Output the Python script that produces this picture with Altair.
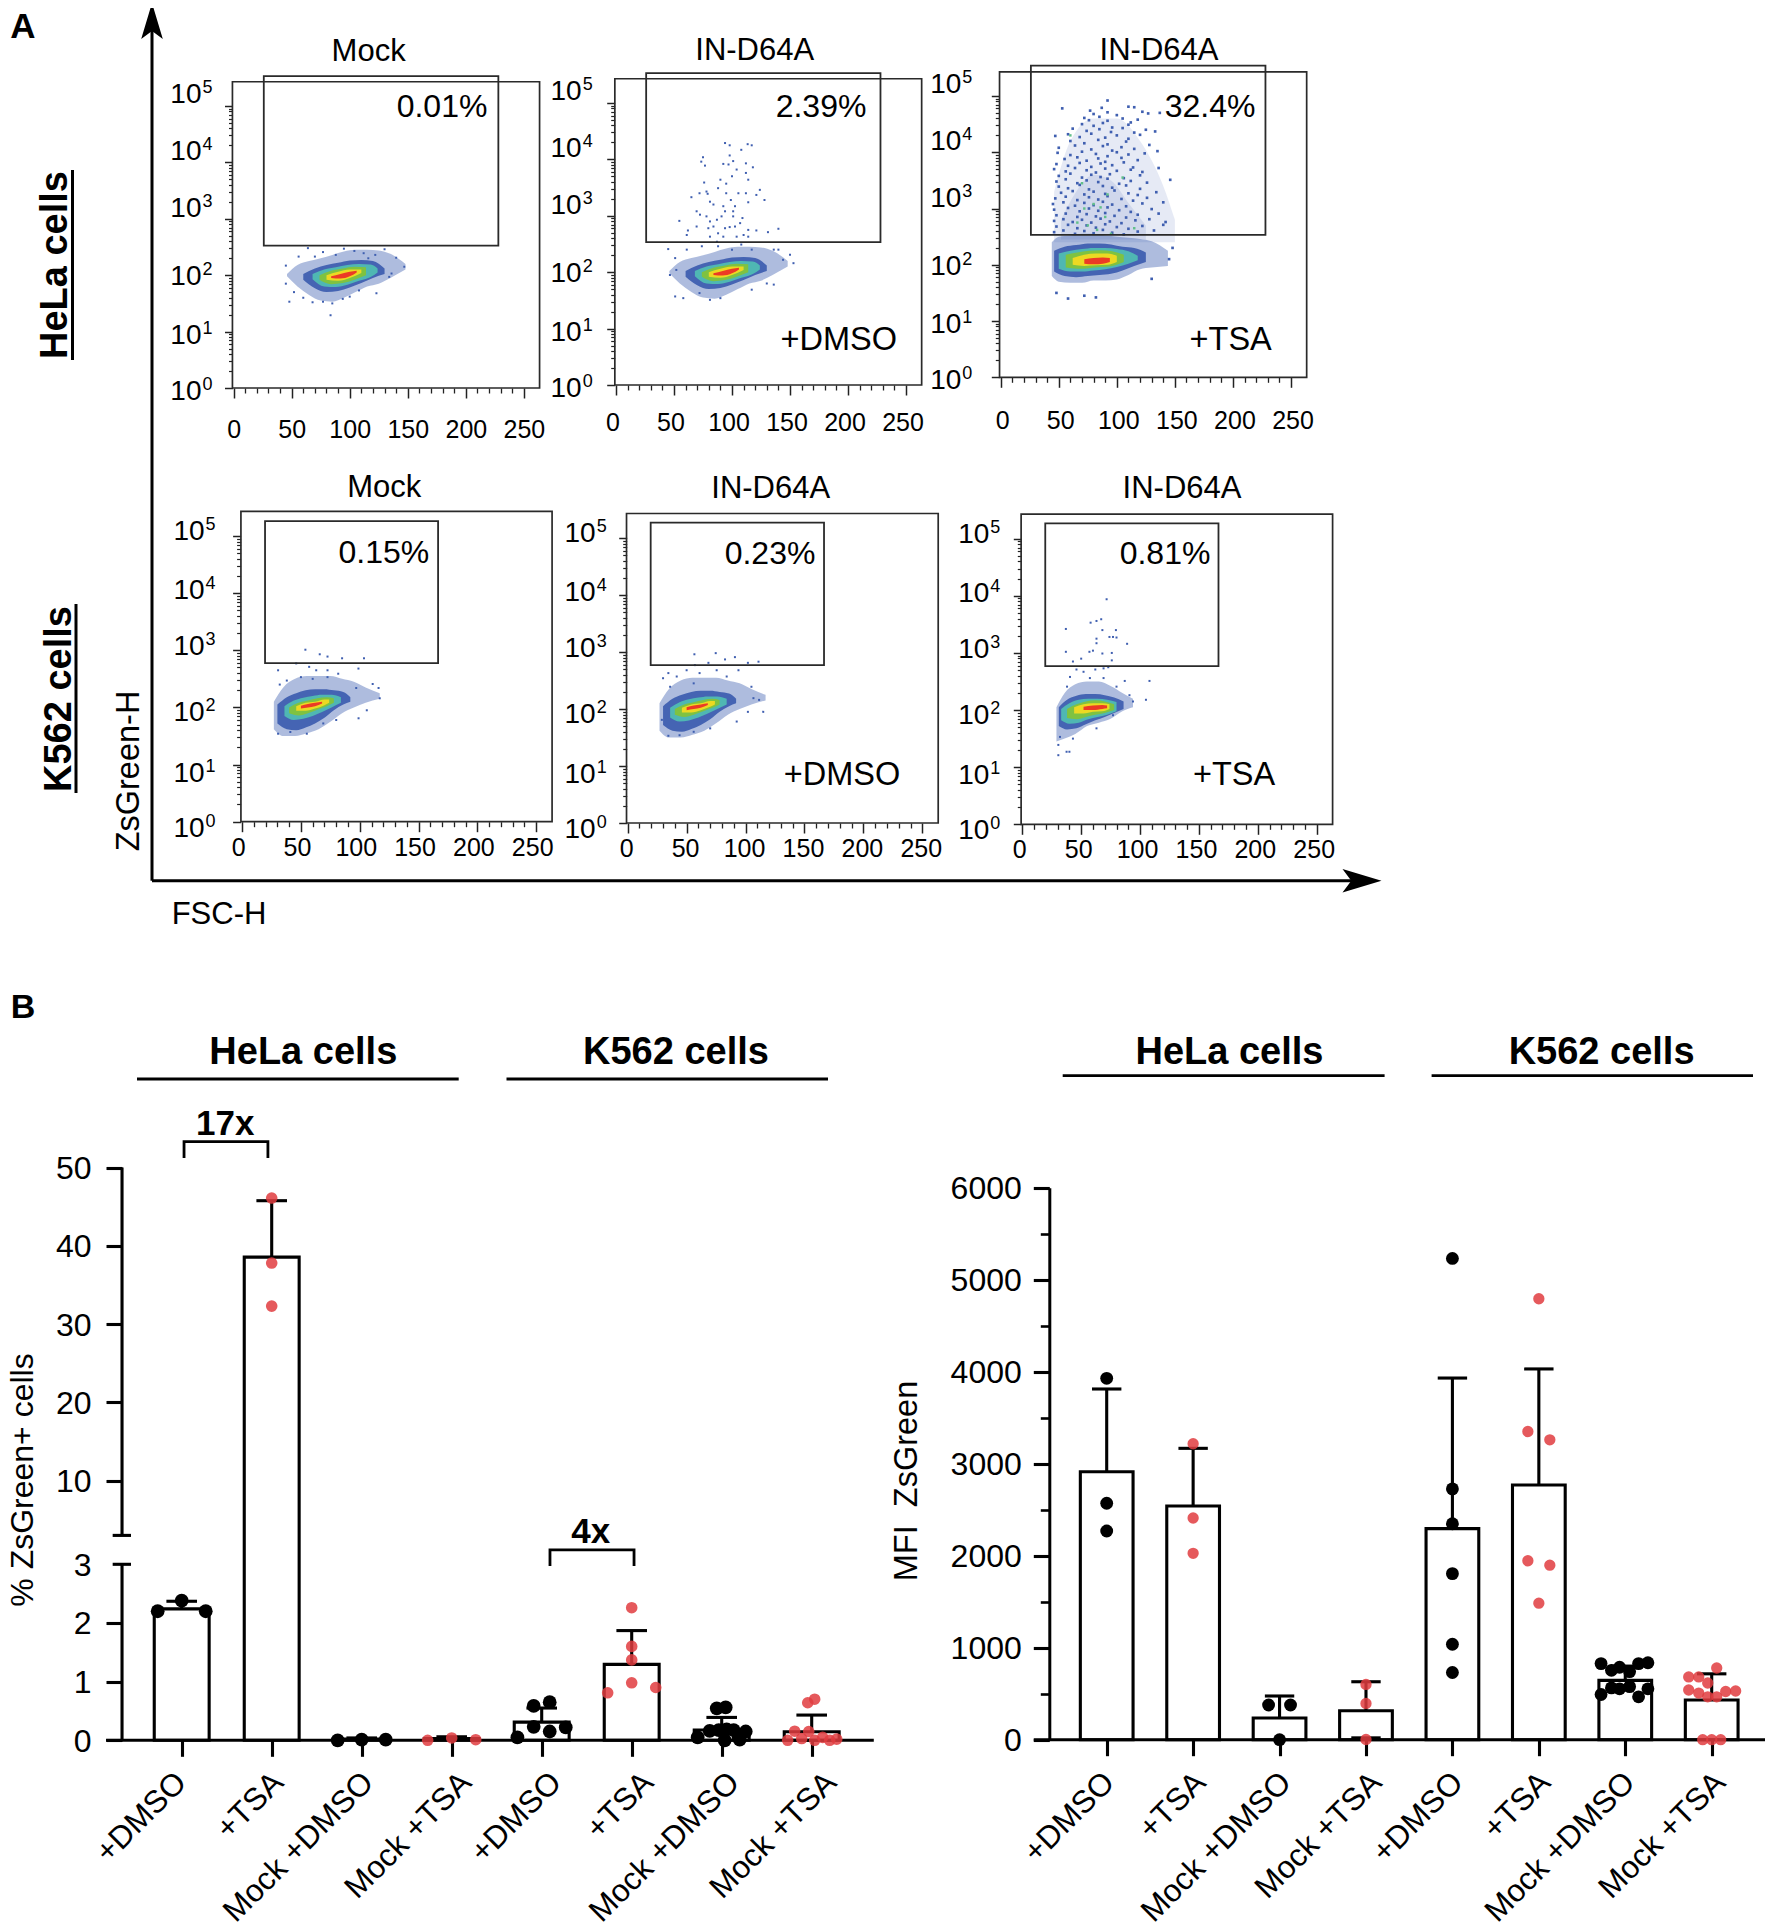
import altair as alt
import pandas as pd

W, H = 1757, 1920
FONT = "Liberation Sans"
def px(v): return v - 8
def py(v): return v - 8

# ---------- flow cytometry panels ----------
X_MAJOR = [0, 50, 100, 150, 200, 250]
X_MINOR = [10, 20, 30, 40, 60, 70, 80, 90, 110, 120, 130, 140, 160, 170, 180, 190, 210, 220, 230, 240, 260]
Y_MAJOR = [1, 10, 100, 1000, 10000, 100000]
Y_MINOR = [m * d for d in [1, 10, 100, 1000, 10000] for m in range(2, 10)] + [200000]
DECADES = [0, 1, 2, 3, 4, 5]
ROW1_LABEL_SHIFT = [4, 4, 2, -10, -10, -11]
ROW2_LABEL_SHIFT = [7, 9, 6, -3, -2, -4]

COLORS = ["#3f5fb0", "#3f5fb0", "#4fb7b3", "#7fc241", "#ecd922", "#ec3a25"]
OPAC = [0.42, 0.95, 1, 1, 1, 1]

HELA_LEVELS = [
    ([46,55,65,75,85,95,105,115,125,135,148], [1.98,1.8,1.65,1.55,1.53,1.6,1.7,1.8,1.85,1.95,2.1], [2.02,2.18,2.25,2.3,2.36,2.42,2.45,2.45,2.44,2.38,2.2]),
    ([60,70,80,90,100,110,120,130], [1.92,1.77,1.7,1.72,1.78,1.86,1.95,2.02], [2.02,2.12,2.18,2.22,2.26,2.27,2.25,2.12]),
    ([68,78,88,98,108,118,124], [1.93,1.8,1.79,1.83,1.9,1.97,2.05], [2.02,2.1,2.14,2.18,2.2,2.19,2.12]),
    ([74,84,94,104,114], [1.92,1.84,1.86,1.92,2.0], [2.0,2.08,2.12,2.15,2.14]),
    ([80,90,100,110], [1.92,1.9,1.95,2.04], [2.0,2.06,2.1,2.1]),
    ([84,92,100,106], [1.95,1.94,1.98,2.05], [1.98,2.02,2.06,2.08]),
]
TSA_LEVELS = [
    ([44,50,60,70,80,90,100,110,120,130,144], [1.8,1.7,1.68,1.68,1.72,1.72,1.74,1.82,1.92,1.95,1.98], [2.4,2.5,2.52,2.55,2.55,2.52,2.5,2.48,2.46,2.42,2.25]),
    ([46,55,65,75,85,95,105,115,125], [1.88,1.8,1.78,1.8,1.82,1.84,1.9,1.98,2.05], [2.25,2.32,2.35,2.38,2.38,2.36,2.32,2.3,2.22]),
    ([50,60,70,80,90,100,110,118], [1.93,1.88,1.88,1.9,1.92,1.96,2.02,2.08], [2.2,2.25,2.28,2.3,2.3,2.28,2.24,2.16]),
    ([56,66,76,86,96,106], [1.95,1.93,1.94,1.96,1.98,2.05], [2.18,2.22,2.25,2.26,2.24,2.18]),
    ([62,72,82,92,100], [2.0,1.98,1.99,2.0,2.05], [2.12,2.18,2.2,2.2,2.16]),
    ([72,80,88,94], [2.02,2.01,2.02,2.05], [2.1,2.12,2.13,2.12]),
]
K562_LEVELS = [
    ([27,35,45,55,65,75,85,95,105,117], [1.62,1.5,1.5,1.55,1.62,1.75,1.9,2.0,2.08,2.15], [2.1,2.35,2.5,2.55,2.55,2.55,2.5,2.45,2.35,2.25]),
    ([30,38,46,54,62,70,78,86,92], [1.72,1.62,1.6,1.65,1.72,1.82,1.95,2.05,2.1], [2.05,2.18,2.25,2.3,2.32,2.32,2.3,2.27,2.18]),
    ([36,44,52,60,68,76,84], [1.85,1.78,1.8,1.85,1.92,2.0,2.08], [2.02,2.12,2.17,2.2,2.22,2.22,2.18]),
    ([40,48,56,64,72,78], [1.9,1.86,1.9,1.96,2.02,2.08], [2.0,2.08,2.12,2.16,2.18,2.16]),
    ([46,54,62,70,74], [1.94,1.94,1.98,2.04,2.08], [2.02,2.08,2.1,2.14,2.14]),
    ([50,56,62,68], [1.98,2.0,2.02,2.07], [2.03,2.06,2.08,2.1]),
]
K562_TSA_LEVELS = [
    ([29,36,45,55,65,75,85,94], [1.45,1.5,1.58,1.72,1.78,1.85,1.98,2.05], [2.05,2.3,2.45,2.5,2.5,2.42,2.3,2.2]),
    ([31,38,46,54,62,70,78,86], [1.72,1.66,1.68,1.75,1.82,1.88,1.95,2.02], [2.05,2.18,2.25,2.28,2.28,2.26,2.22,2.15]),
    ([33,40,48,56,64,72,80], [1.82,1.76,1.78,1.84,1.88,1.92,1.98], [2.02,2.12,2.18,2.2,2.2,2.18,2.14]),
    ([38,46,54,62,70,78], [1.86,1.84,1.88,1.92,1.95,2.0], [2.02,2.1,2.15,2.17,2.15,2.1]),
    ([44,52,60,68,74], [1.94,1.94,1.97,1.98,2.02], [2.05,2.1,2.12,2.12,2.1]),
    ([52,60,68,72], [2.0,2.0,2.02,2.03], [2.06,2.08,2.09,2.08]),
]
TSA_HAZE = ([46,60,80,100,120,140,150], [2.4,2.4,2.4,2.4,2.4,2.4,2.4], [3.3,4.2,4.6,4.6,4.2,3.4,2.8])
TSA_HAZE2 = ([52,65,80,95,110,125], [2.45,2.45,2.45,2.45,2.45,2.45], [2.8,3.3,3.6,3.5,3.1,2.7])

P1_DOTS = [(64,2.48),(77,2.41),(95,2.47),(112,2.39),(130,2.46),(140,2.31),(147,2.15),(136,2.03),(123,1.68),(83.5,1.29),
           (56,2.33),(45,2.17),(45,1.85),(48,1.53),(77,1.53),(94,1.58),(108,1.73),(134,1.97),(122,2.36),(116,2.3),
           (52,1.7),(60,1.6),(68,1.52),(85,1.5),(100,1.62),(104,2.43),(88,2.36),(70,2.33)]
P2_DOTS = [(94,4.29),(98,4.25),(108,4.17),(113.5,4.27),(117,4.25),(75,4.04),(98,4.07),(92.5,3.92),(101,3.97),(73.5,3.96),
           (76.7,3.89),(97,3.91),(112,3.93),(104,3.82),(118,3.86),(100,3.7),(112,3.76),(76,3.59),(90,3.64),(114,3.64),
           (95,3.57),(88,3.49),(78,3.43),(79,3.39),(95,3.4),(105.5,3.4),(112,3.4),(124,3.46),(121,3.37),(65,3.33),
           (72,3.4),(99,3.28),(81,3.25),(114,3.24),(128,3.28),(84,3.2),(92.5,3.17),(102.6,3.17),(69.5,3.08),(72.4,3.02),
           (78,2.99),(94,3.08),(101,3.08),(109,2.96),(54.6,2.91),(81,2.9),(87,2.93),(91,2.99),(101,2.99),(107,2.87),
           (62,2.74),(69.5,2.81),(79.6,2.78),(84,2.81),(94,2.78),(98,2.8),(102.6,2.81),(114,2.75),(140,2.77),(121,2.74),
           (131,2.71),(61,2.66),(81,2.63),(88,2.69),(92.5,2.63),(104,2.63),(110,2.66),(114,2.63),(87,2.54),
           (45,2.41),(61,2.4),(74,2.46),(88,2.46),(100,2.4),(108,2.49),(117,2.4),(136,2.4),(140,2.4),(153,2.16),(150,2.31),
           (144,2.22),(51,2.25),(52,2.04),(46.5,1.95),(51,1.57),(58,1.54),(72,1.63),(81,1.51),(90,1.54),(117,1.69),(130,1.8),(136,1.78)]
P3_DOTS = [(92,4.92),(53,4.78),(77,4.74),(87,4.79),(110,4.81),(115,4.8),(80,4.68),(92,4.71),(100,4.66),(122,4.72),(127,4.69),(137,4.7),
           (72,4.61),(76,4.57),(85,4.63),(92,4.56),(105,4.6),(112,4.53),(118,4.58),(70,4.5),(80,4.47),(88,4.52),(96,4.44),(110,4.49),
           (62,4.42),(74,4.38),(85,4.41),(95,4.36),(105,4.43),(115,4.35),(125,4.4),(133,4.37),(47,4.29),(58,4.32),(68,4.27),(78,4.33),(90,4.26),(100,4.3),(110,4.24),(120,4.31),
           (60,4.2),(72,4.16),(84,4.22),(92,4.14),(108,4.19),(50,4.08),(64,4.12),(78,4.05),(88,4.11),(96,4.03),(104,4.09),(115,4.06),(128,4.13),
           (49,3.99),(60,3.95),(70,4.01),(82,3.97),(92,3.93),(100,4.0),(110,3.96),(124,3.98),(135,4.02),(55,3.88),(66,3.91),(74,3.85),(84,3.89),(90,3.83),(104,3.9),(118,3.86),
           (48,3.79),(58,3.76),(68,3.81),(78,3.74),(86,3.8),(96,3.77),(106,3.82),(114,3.73),(46,3.7),(56,3.66),(64,3.72),(74,3.68),(82,3.64),(90,3.71),(100,3.67),(112,3.69),(122,3.65),(136,3.72),
           (50,3.58),(60,3.62),(70,3.55),(78,3.6),(86,3.56),(94,3.61),(106,3.54),(120,3.59),(48,3.48),(56,3.52),(66,3.45),(74,3.5),(84,3.47),(92,3.53),(102,3.44),(112,3.49),(126,3.46),(146,3.51),
           (50,3.39),(58,3.36),(68,3.42),(76,3.34),(88,3.4),(96,3.37),(108,3.41),(120,3.35),(52,3.28),(62,3.31),(72,3.25),(80,3.3),(90,3.26),(98,3.32),(110,3.27),(118,3.24),(134,3.29),
           (47,3.18),(56,3.21),(66,3.15),(76,3.2),(84,3.16),(92,3.22),(104,3.17),(114,3.14),(126,3.19),(45,3.08),(54,3.11),(64,3.05),(72,3.1),(80,3.06),(88,3.12),(96,3.07),(108,3.04),(122,3.09),(140,3.11),
           (46,2.98),(58,3.01),(68,2.95),(76,3.0),(84,2.96),(92,3.02),(102,2.97),(112,2.94),(130,2.99),(48,2.88),(56,2.91),(66,2.85),(74,2.9),(82,2.86),(90,2.92),(98,2.87),(108,2.84),(118,2.89),(136,2.91),
           (46,2.78),(54,2.81),(62,2.76),(70,2.8),(78,2.75),(86,2.82),(94,2.77),(104,2.74),(116,2.79),(128,2.81),(142,2.76),(48,2.68),(58,2.71),(66,2.65),(74,2.7),(82,2.66),(90,2.72),(100,2.67),(110,2.64),(122,2.69),(140,2.71),
           (46,2.58),(54,2.61),(64,2.55),(72,2.6),(80,2.56),(88,2.62),(96,2.57),(106,2.54),(118,2.59),(132,2.61),(148,2.3),(145,2.1),(130,1.75),(58,1.4),(48,1.5),(72,1.45),(82,1.42)]
P3_GREEN = [(72,3.0),(86,3.02),(80,3.08),(90,2.85),(75,2.7),(83,2.62),(95,2.55),(66,2.75),(92,3.25),(70,3.45),(105,3.55),(60,4.3),(115,2.65)]
P4_DOTS = [(53.8,3.01),(66,2.93),(72.6,2.89),(85,2.86),(103.6,2.86),(98.9,2.68),(30.6,2.65),(46,2.77),(57,2.71),(63,2.65),(72.6,2.65),(81.7,2.59),
           (38,2.47),(50,2.53),(60,2.5),(72.6,2.53),(97,2.34),(111,2.41),(116,2.34),(117,2.16),(106,1.95),(99,1.81),(80,1.78),(32,2.4),(30.6,1.54),(41,1.57),(55,1.54),(69,1.72)]
P5_DOTS = [(56.6,2.96),(74.7,2.98),(82.6,2.87),(91,2.91),(111,2.83),(102,2.81),(57,2.77),(68.5,2.81),(94,2.68),(50,2.68),(34.5,2.63),(30,2.54),(41.6,2.57),(61,2.63),
           (75.5,2.68),(84,2.57),(36,2.39),(56,2.45),(105,2.39),(111.5,2.16),(106.7,2.19),(115,1.95),(102,1.95),(92.5,1.78),(70,1.66),(29,1.81),(34.5,1.53),(44,1.54),(56,1.6)]
P6_DOTS = [(71.6,3.94),(58,3.53),(63,3.56),(67,3.59),(37,3.42),(68,3.4),(74,3.28),(77,3.28),(80,3.27),(63,3.25),(63,3.17),(89,3.16),(79.5,3.4),(37,3.02),(60,3.04),(57,3.02),
           (68,2.99),(76,3.0),(50,2.9),(43,2.85),(76,2.87),(46,2.71),(62,2.71),(69,2.73),(73,2.75),(52,2.67),(40.5,2.58),(57.4,2.56),(69,2.56),(87,2.51),(108,2.51),(38,2.41),(80,2.41),
           (105,2.18),(91,2.26),(94,2.15),(30.6,1.39),(37.6,1.27),(40,1.27),(30.6,1.21),(32,1.53),(43,1.5),(63,1.68),(77,1.91)]

FLOW = [
    dict(x0=233.6, x250=523.9, y0=388.0, y5=106.0, left=232.5, pad=19.7, lab=0, split=-31, shift=ROW1_LABEL_SHIFT,
         gx=[26,228], gy=[2.523,5.53], levels=HELA_LEVELS, dots=P1_DOTS,
         title="Mock", tx=368.6, ty=50, pct="0.01%", ptx=442, pty=105, sub=None),
    dict(x0=616.0, x250=906.0, y0=385.0, y5=103.0, left=614.7, pad=15.7, lab=-3.5, split=-33, shift=ROW1_LABEL_SHIFT,
         gx=[26,228], gy=[2.535,5.53], levels=HELA_LEVELS, dots=P2_DOTS,
         title="IN-D64A", tx=754.7, ty=49.3, pct="2.39%", ptx=821, pty=105, sub="+DMSO", sx=838.7, sy=338),
    dict(x0=1000.7, x250=1291.0, y0=377.3, y5=96.0, left=999.3, pad=20.7, lab=1.5, split=-38, shift=ROW1_LABEL_SHIFT,
         gx=[26,228], gy=[2.533,5.54], levels=TSA_LEVELS, dots=P3_DOTS,
         title="IN-D64A", tx=1159, ty=49.3, pct="32.4%", ptx=1210, pty=105, sub="+TSA", sx=1230.7, sy=338),
    dict(x0=242.1, x250=536.2, y0=821.7, y5=536.0, left=240.6, pad=3.7, lab=-4, split=-36, shift=ROW2_LABEL_SHIFT,
         gx=[19.5,166.6], gy=[2.774,5.26], levels=K562_LEVELS, dots=P4_DOTS,
         title="Mock", tx=384.2, ty=486.7, pct="0.15%", ptx=383.9, pty=551.7, sub=None),
    dict(x0=627.7, x250=922.3, y0=823.0, y5=538.0, left=626.7, pad=3.7, lab=-1.5, split=-31, shift=ROW2_LABEL_SHIFT,
         gx=[19.5,166.6], gy=[2.77,5.27], levels=K562_LEVELS, dots=P5_DOTS,
         title="IN-D64A", tx=770.7, ty=487, pct="0.23%", ptx=770, pty=552, sub="+DMSO", sx=842, sy=772.7),
    dict(x0=1022.3, x250=1316.7, y0=824.3, y5=538.7, left=1021.3, pad=2.7, lab=-3, split=-32, shift=ROW2_LABEL_SHIFT,
         gx=[19.5,166.6], gy=[2.77,5.27], levels=K562_TSA_LEVELS, dots=P6_DOTS,
         title="IN-D64A", tx=1182, ty=487, pct="0.81%", ptx=1165, pty=552, sub="+TSA", sx=1234, sy=772.7),
]
FRAME_X = [-1, 263.5]
FRAME_LOG = [0, 5.43]

# ---------- bar panels ----------
GROUP_LABELS = ["+DMSO", "+TSA", "Mock +DMSO", "Mock +TSA", "+DMSO", "+TSA", "Mock +DMSO", "Mock +TSA"]
PCT_MEAN = [2.24, 38.55, 0.02, 0.03, 0.31, 1.295, 0.175, 0.145]
PCT_TOP = [2.37, 45.76, 0.04, 0.06, 0.55, 1.87, 0.39, 0.43]
PCT_BLACK = [
    (0,-.267,2.20),(0,0,2.38),(0,.267,2.20),
    (2,-.267,0),(2,0,.01),(2,.267,.01),
    (4,-.27,.05),(4,-.089,.585),(4,.089,.65),(4,-.089,.23),(4,.089,.15),(4,.267,.22),
    (6,-.267,.05),(6,-.055,.545),(6,.044,.56),(6,-.133,.16),(6,-.033,.175),(6,.055,.185),(6,.133,.175),(6,.267,.15),(6,.189,.05),(6,.033,0),(6,.2,.01),
]
PCT_RED = [
    (1,0,46.1),(1,0,37.8),(1,0,32.3),
    (3,-.267,0),(3,0,.04),(3,.267,.01),
    (5,0,2.26),(5,0,1.6),(5,0,1.37),(5,0,.98),(5,-.267,.81),(5,.267,.90),
    (7,.033,.70),(7,-.044,.64),(7,-.267,0),(7,-.189,.155),(7,-.111,.03),(7,-.033,.15),(7,.033,0),(7,.122,.05),(7,.2,0),(7,.278,.02),
]
PCT_LABEL_SHIFT = [0, 7, 7, 15, 15, 17, 13, 20]

MFI_MEAN = [2913, 2540, 236, 315, 2294, 2769, 645, 431]
MFI_TOP = [3812, 3167, 475, 630, 3931, 4030, 800, 716]
MFI_LOW_CAPS = [(3, 20)]
MFI_BLACK = [
    (0,0,3928),(0,0,2570),(0,0,2268),
    (2,-.127,377),(2,.127,377),(2,0,0),
    (4,0,5231),(4,0,2726),(4,0,2347),(4,0,1805),(4,0,1038),(4,0,730),
    (6,-.28,827),(6,-.16,754),(6,-.066,788),(6,.05,740),(6,.154,827),(6,.262,836),
    (6,-.28,491),(6,-.16,563),(6,-.066,553),(6,.05,577),(6,.154,466),(6,.262,553),
]
MFI_RED = [
    (1,0,3217),(1,0,2410),(1,0,2026),
    (3,0,601),(3,0,394),(3,0,2),
    (5,0,4793),(5,-.127,3350),(5,.127,3259),(5,-.127,1945),(5,.127,1897),(5,0,1484),
    (7,.058,779),(7,-.266,682),(7,-.15,682),(7,-.046,616),(7,-.266,540),(7,-.15,507),(7,-.046,466),(7,.058,466),(7,.162,524),(7,.277,529),
    (7,-.104,0),(7,0,0),(7,.104,0),
]
MFI_LABEL_SHIFT = [3, 8, 7, 11, 6, 7, 5, 9]

LW = 3.1
layers = []
one = pd.DataFrame({"x": [0], "y": [1]})

def text(t, x, y, size, bold=False, angle=0, align="center"):
    kw = {"angle": angle} if angle else {}
    layers.append(alt.Chart(pd.DataFrame({"t": [t]})).mark_text(
        font=FONT, fontSize=size, fontWeight="bold" if bold else "normal", color="black",
        align=align, baseline="middle", **kw
    ).encode(text="t:N", x=alt.value(px(x)), y=alt.value(py(y))))

def hline(x1, x2, y, w=3, color="black"):
    layers.append(alt.Chart(one).mark_rule(color=color, strokeWidth=w).encode(
        x=alt.value(px(x1)), x2=alt.value(px(x2)), y=alt.value(py(y))))

def vline(x, y1, y2, w=3, color="black"):
    layers.append(alt.Chart(one).mark_rule(color=color, strokeWidth=w).encode(
        x=alt.value(px(x)), y=alt.value(py(y1)), y2=alt.value(py(y2))))

def flow_panel(p):
    sx = alt.Scale(domain=[0, 250], range=[px(p["x0"]), px(p["x250"])], nice=False, zero=False)
    sy = alt.Scale(type="log", domain=[1, 100000], range=[py(p["y0"]), py(p["y5"])], nice=False)
    xn = alt.X("x:Q", scale=sx, axis=None)
    yn = alt.Y("y:Q", scale=sy, axis=None)
    offx = -(H - py(p["y0"]))
    offy = -px(p["left"])
    # axes
    layers.append(alt.Chart(one).mark_point(opacity=0).encode(
        x=alt.X("x:Q", scale=sx, axis=alt.Axis(orient="bottom", offset=offx, values=X_MAJOR, domain=False, grid=False, title=None,
                tickSize=10, tickWidth=1.5, tickColor="#222", labelFont=FONT, labelFontSize=25, labelColor="black",
                labelPadding=p["pad"], labelOverlap=False, labelFlush=False, labelBound=False, format="d", labelOffset=p["lab"])),
        y=alt.Y("y:Q", scale=sy, axis=alt.Axis(orient="left", offset=offy, values=Y_MAJOR, domain=False, grid=False, title=None,
                tickSize=8, tickWidth=1.5, tickColor="#222", labels=False))))
    layers.append(alt.Chart(one).mark_point(opacity=0).encode(
        x=alt.X("x:Q", scale=sx, axis=alt.Axis(orient="bottom", offset=offx, values=X_MINOR, domain=False, grid=False, title=None,
                tickSize=5, tickWidth=1.3, tickColor="#222", labels=False)),
        y=alt.Y("y:Q", scale=sy, axis=alt.Axis(orient="left", offset=offy, values=Y_MINOR, domain=False, grid=False, title=None,
                tickSize=4, tickWidth=1.2, tickColor="#222", labels=False))))
    # cloud
    is_tsa = p["levels"] is TSA_LEVELS
    if is_tsa:
        for hz, op in ((TSA_HAZE, .13), (TSA_HAZE2, .13)):
            df = pd.DataFrame({"x": hz[0], "y": [10**v for v in hz[1]], "y2": [10**v for v in hz[2]]})
            layers.append(alt.Chart(df).mark_area(color="#3f5fb0", opacity=op, interpolate="monotone").encode(
                x=xn, y=yn, y2=alt.Y2("y2:Q")))
    dots = pd.DataFrame({"x": [d[0] for d in p["dots"]], "y": [10**d[1] for d in p["dots"]]})
    layers.append(alt.Chart(dots).mark_square(size=7 if is_tsa else 4, color="#3f5fb0", opacity=1).encode(x=xn, y=yn))
    if is_tsa:
        g = pd.DataFrame({"x": [d[0] for d in P3_GREEN], "y": [10**d[1] for d in P3_GREEN]})
        layers.append(alt.Chart(g).mark_square(size=6, color="#62c08a", opacity=1).encode(x=xn, y=yn))
    for lev, col, op in zip(p["levels"], COLORS, OPAC):
        df = pd.DataFrame({"x": lev[0], "y": [10**v for v in lev[1]], "y2": [10**v for v in lev[2]]})
        layers.append(alt.Chart(df).mark_area(color=col, opacity=op, interpolate="monotone").encode(
            x=xn, y=yn, y2=alt.Y2("y2:Q")))
    # frame and gate
    for xs, logs, w in ((FRAME_X, FRAME_LOG, 1.7), (p["gx"], p["gy"], 1.8)):
        df = pd.DataFrame({"x": [xs[0]], "x2": [xs[1]], "y": [10**logs[0]], "y2": [10**logs[1]]})
        layers.append(alt.Chart(df).mark_rect(fill="transparent", stroke="#2a2a2a", strokeWidth=w).encode(
            x=xn, x2=alt.X2("x2:Q"), y=yn, y2=alt.Y2("y2:Q")))
    # decade labels, kept as 10 + raised exponent
    dec = 56.5
    lab = pd.DataFrame({"y": [10**(k - s/dec) for k, s in zip(DECADES, p["shift"])],
                        "e": [str(k) for k in DECADES], "b": ["10"]*6})
    layers.append(alt.Chart(lab).mark_text(font=FONT, fontSize=28, color="black", align="right", baseline="middle").encode(
        x=alt.value(px(p["left"] + p["split"])), y=yn, text="b:N"))
    layers.append(alt.Chart(lab).mark_text(font=FONT, fontSize=18, color="black", align="left", baseline="middle", dy=-7, dx=1).encode(
        x=alt.value(px(p["left"] + p["split"])), y=yn, text="e:N"))
    text(p["title"], p["tx"], p["ty"] + 1.5, 31)
    text(p["pct"], p["ptx"], p["pty"] + 1.5, 32)
    if p["sub"]:
        text(p["sub"], p["sx"], p["sy"] + 2, 32.5)

for p in FLOW:
    flow_panel(p)

# panel A frame arrows and side titles
vline(152, 20, 880.7, 3)
hline(152, 1360, 880.7, 3)
ARROW = "M0,-1L0.6,1L0,0.55L-0.6,1Z"
layers.append(alt.Chart(one).mark_point(shape=ARROW, size=1296, filled=True, color="black", opacity=1).encode(
    x=alt.value(px(152)), y=alt.value(py(21))))
layers.append(alt.Chart(one).mark_point(shape=ARROW, size=1521, filled=True, color="black", opacity=1, angle=90).encode(
    x=alt.value(px(1362)), y=alt.value(py(880.7))))
text("A", 23, 27, 35, bold=True)
text("B", 23, 1008, 34, bold=True)
text("HeLa cells", 56, 265, 38, bold=True, angle=270)
vline(72.5, 170, 360, 3)
text("K562 cells", 60, 699, 38, bold=True, angle=270)
vline(76, 604, 793, 3)
text("ZsGreen-H", 129, 771, 32.5, angle=270)
text("FSC-H", 219, 915, 31)

# ---------- bar panel helper ----------
def bar_panel(xs, ys, means, tops, black, red, label_shift, spacing, line_span, bsize, rsize, axis_val, axis_x, low_caps=()):
    xq = alt.X("x:Q", scale=xs, axis=None)
    yq = alt.Y("y:Q", scale=ys, axis=None)
    idx = list(range(8))
    # category ticks
    layers.append(alt.Chart(one).mark_point(opacity=0).encode(
        x=alt.X("x:Q", scale=xs, axis=alt.Axis(orient="bottom", offset=-(H - py(axis_val)), values=idx, labels=False,
                domain=False, grid=False, title=None, tickSize=16, tickWidth=LW, tickColor="black")),
        y=yq))
    # bars
    df = pd.DataFrame({"x": [i - .305 for i in idx], "x2": [i + .305 for i in idx], "y": [0]*8, "y2": means})
    layers.append(alt.Chart(df).mark_rect(fill="white", stroke="black", strokeWidth=LW).encode(
        x=xq, x2=alt.X2("x2:Q"), y=yq, y2=alt.Y2("y2:Q")))
    # baseline
    df = pd.DataFrame({"x": [line_span[0]], "x2": [line_span[1]], "y": [0]})
    layers.append(alt.Chart(df).mark_rule(color="black", strokeWidth=LW).encode(x=xq, x2=alt.X2("x2:Q"), y=yq))
    # error bars
    df = pd.DataFrame({"x": idx, "y": means, "y2": tops})
    layers.append(alt.Chart(df).mark_rule(color="black", strokeWidth=LW).encode(x=xq, y=yq, y2=alt.Y2("y2:Q")))
    cap_vals = list(tops) + [c[1] for c in low_caps]
    cap_idx = idx + [c[0] for c in low_caps]
    df = pd.DataFrame({"x": [i - .17 for i in cap_idx], "x2": [i + .17 for i in cap_idx], "y": cap_vals})
    layers.append(alt.Chart(df).mark_rule(color="black", strokeWidth=LW).encode(x=xq, x2=alt.X2("x2:Q"), y=yq))
    # observations
    df = pd.DataFrame({"x": [d[0] + d[1] for d in black], "y": [d[2] for d in black]})
    layers.append(alt.Chart(df).mark_circle(size=bsize, color="black", opacity=1).encode(x=xq, y=yq))
    df = pd.DataFrame({"x": [d[0] + d[1] for d in red], "y": [d[2] for d in red]})
    layers.append(alt.Chart(df).mark_circle(size=rsize, color="#e03c3f", opacity=.85).encode(x=xq, y=yq))
    # rotated category labels
    df = pd.DataFrame({"x": [i + s / spacing for i, s in zip(idx, label_shift)], "t": GROUP_LABELS})
    layers.append(alt.Chart(df).mark_text(font=FONT, fontSize=31.5, color="black", angle=315, align="right", baseline="middle").encode(
        x=xq, y=alt.value(py(1778)), text="t:N"))

# ---------- left bars: % ZsGreen+ with a broken axis ----------
LX = alt.Scale(domain=[0, 7], range=[px(181.7), px(811.7)], nice=False, zero=False)
LY = alt.Scale(domain=[0, 3, 3.01, 50], range=[py(1740.3), py(1564.3), py(1535.4), py(1167.5)], nice=False, zero=False)
layers.append(alt.Chart(one).mark_point(opacity=0).encode(
    x=alt.X("x:Q", scale=LX, axis=None),
    y=alt.Y("y:Q", scale=LY, axis=alt.Axis(orient="left", offset=-px(122), values=[0, 1, 2, 10, 20, 30, 40, 50], domain=False, grid=False,
            title=None, tickSize=16, tickWidth=LW, tickColor="black", labelFont=FONT, labelFontSize=32, labelColor="black",
            labelPadding=15, labelOverlap=False, labelFlush=False, labelBound=False, format="d", labelOffset=1))))
layers.append(alt.Chart(one).mark_point(opacity=0).encode(
    x=alt.X("x:Q", scale=LX, axis=None),
    y=alt.Y("y:Q", scale=LY, axis=alt.Axis(orient="left", offset=-px(122), values=[3], domain=False, grid=False, ticks=False,
            title=None, labelFont=FONT, labelFontSize=32, labelColor="black", labelPadding=31, labelOverlap=False,
            labelFlush=False, labelBound=False, format="d", labelOffset=1))))
AXIS_SEGMENTS = [(0, 3), (3.01, 50)]
BREAK_TICKS = [3, 3.01]
for a, b in AXIS_SEGMENTS:
    df = pd.DataFrame({"x": [-.663], "y": [a], "y2": [b]})
    layers.append(alt.Chart(df).mark_rule(color="black", strokeWidth=LW).encode(
        x=alt.X("x:Q", scale=LX, axis=None), y=alt.Y("y:Q", scale=LY, axis=None), y2=alt.Y2("y2:Q")))
df = pd.DataFrame({"x": [-.767]*2, "x2": [-.563]*2, "y": BREAK_TICKS})
layers.append(alt.Chart(df).mark_rule(color="black", strokeWidth=LW).encode(
    x=alt.X("x:Q", scale=LX, axis=None), x2=alt.X2("x2:Q"), y=alt.Y("y:Q", scale=LY, axis=None)))
bar_panel(LX, LY, PCT_MEAN, PCT_TOP, PCT_BLACK, PCT_RED, PCT_LABEL_SHIFT, 90, (-.841, 7.69), 190, 135, 1740.3, 122)
text("% ZsGreen+ cells", 22.5, 1480, 32, angle=270)

BRACKET_17 = ([.026, .026, .958, .958], [51.2, 53.3, 53.3, 51.2])
BRACKET_4 = ([4.092, 4.092, 5.026, 5.026], [2.97, 3.005, 3.005, 2.97])
for bx, by in (BRACKET_17, BRACKET_4):
    df = pd.DataFrame({"x": bx, "y": by, "o": [0, 1, 2, 3]})
    layers.append(alt.Chart(df).mark_line(color="black", strokeWidth=2.8).encode(
        x=alt.X("x:Q", scale=LX, axis=None), y=alt.Y("y:Q", scale=LY, axis=None), order="o:Q"))
text("17x", 225.3, 1123.5, 35, bold=True)
text("4x", 590.7, 1531.5, 35, bold=True)

# ---------- right bars: MFI ----------
RX = alt.Scale(domain=[0, 7], range=[px(1106.7), px(1711.7)], nice=False, zero=False)
RY = alt.Scale(domain=[0, 6000], range=[py(1739.7), py(1187.7)], nice=False, zero=False)
layers.append(alt.Chart(one).mark_point(opacity=0).encode(
    x=alt.X("x:Q", scale=RX, axis=None),
    y=alt.Y("y:Q", scale=RY, axis=alt.Axis(orient="left", offset=-px(1049.3), values=[0, 1000, 2000, 3000, 4000, 5000, 6000],
            domainWidth=3, domainColor="black", grid=False, title=None, tickSize=16, tickWidth=LW, tickColor="black",
            labelFont=FONT, labelFontSize=32, labelColor="black", labelPadding=12, labelOverlap=False, labelFlush=False,
            labelBound=False, format="d", labelOffset=1))))
layers.append(alt.Chart(one).mark_point(opacity=0).encode(
    x=alt.X("x:Q", scale=RX, axis=None),
    y=alt.Y("y:Q", scale=RY, axis=alt.Axis(orient="left", offset=-px(1049.3), values=[500, 1500, 2500, 3500, 4500, 5500],
            domain=False, grid=False, title=None, tickSize=9, tickWidth=2.6, tickColor="black", labels=False))))
bar_panel(RX, RY, MFI_MEAN, MFI_TOP, MFI_BLACK, MFI_RED, MFI_LABEL_SHIFT, 86.5, (-.844, 7.69), 165, 128, 1739.7, 1049.3, low_caps=MFI_LOW_CAPS)
text("MFI\u00a0\u00a0ZsGreen", 907, 1481, 32.5, angle=270)

# group headings
text("HeLa cells", 303.3, 1052.5, 38, bold=True)
hline(137, 458.7, 1079, 2.8)
text("K562 cells", 676, 1052.5, 38, bold=True)
hline(506.5, 828, 1079, 2.8)
text("HeLa cells", 1229.5, 1052.5, 38, bold=True)
hline(1062.7, 1384.6, 1075.7, 2.8)
text("K562 cells", 1601.6, 1052.5, 38, bold=True)
hline(1431.6, 1753, 1075.7, 2.8)

chart = alt.layer(*layers).resolve_scale(x="independent", y="independent").resolve_axis(x="independent", y="independent").properties(
    width=W, height=H, padding=0, autosize=alt.AutoSizeParams(type="none"), background="white"
).configure_view(stroke=None)

chart.save("out.html", embed_options={"renderer": "svg", "actions": False})
